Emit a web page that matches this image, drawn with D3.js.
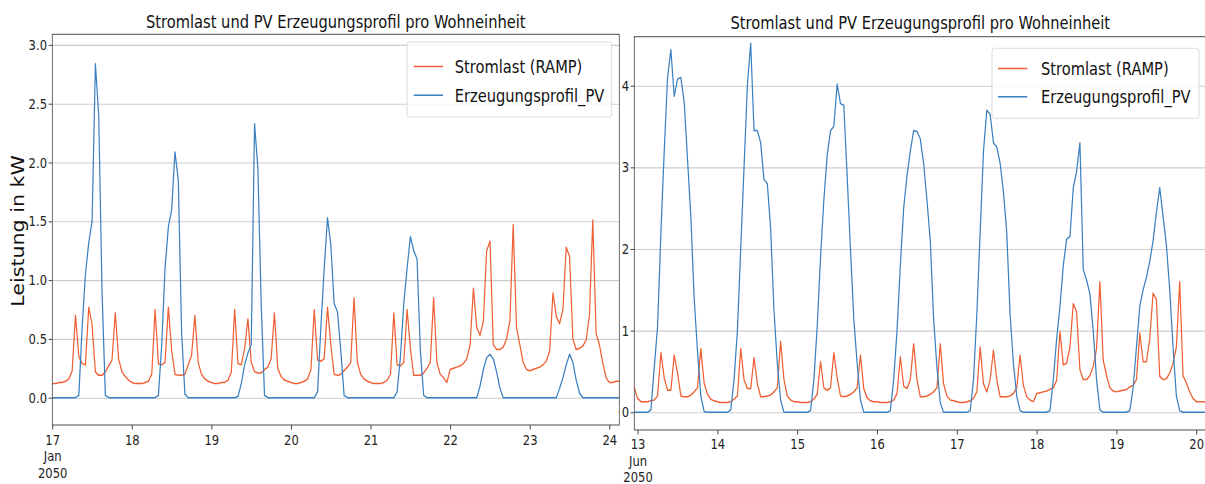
<!DOCTYPE html>
<html>
<head>
<meta charset="utf-8">
<script src="https://cdn.jsdelivr.net/npm/d3@7"></script>
<style>
  body { margin: 0; background: #fff; }
  svg { display: block; }
</style>
</head>
<body>
<div id="chart"></div>
<script>
// hourly values, kW
const loadJan = [
  0.12,0.12,0.13,0.13,0.14,0.16,0.23,0.70,0.35,0.29,0.28,0.77,0.62,0.22,0.19,0.19,0.22,0.27,0.32,0.72,0.33,0.22,0.18,0.15,
  0.13,0.12,0.12,0.12,0.13,0.14,0.20,0.75,0.29,0.28,0.30,0.77,0.40,0.20,0.19,0.19,0.20,0.28,0.36,0.70,0.30,0.20,0.16,0.14,
  0.13,0.12,0.12,0.13,0.13,0.15,0.22,0.75,0.29,0.28,0.42,0.67,0.30,0.22,0.21,0.21,0.24,0.26,0.33,0.72,0.25,0.18,0.15,0.14,
  0.13,0.12,0.12,0.13,0.14,0.16,0.24,0.75,0.32,0.31,0.33,0.77,0.45,0.20,0.19,0.20,0.23,0.26,0.30,0.85,0.30,0.20,0.16,0.14,
  0.13,0.12,0.12,0.12,0.13,0.15,0.20,0.72,0.28,0.27,0.30,0.75,0.42,0.19,0.19,0.19,0.21,0.25,0.30,0.85,0.30,0.20,0.17,0.13,
  0.24,0.25,0.26,0.27,0.29,0.33,0.45,0.93,0.60,0.53,0.65,1.25,1.33,0.45,0.41,0.41,0.43,0.50,0.65,1.47,0.60,0.45,0.30,0.24,
  0.23,0.24,0.25,0.26,0.28,0.31,0.40,0.89,0.69,0.63,0.75,1.28,1.20,0.50,0.41,0.42,0.44,0.49,0.70,1.51,0.55,0.45,0.30,0.17,
  0.13,0.13,0.14,0.14
];
const pvJan = [
  0,0,0,0,0,0,0,0,0.02,0.60,1.05,1.32,1.50,2.84,2.40,0.90,0.02,0,0,0,0,0,0,0,
  0,0,0,0,0,0,0,0,0.02,0.45,1.10,1.45,1.60,2.09,1.85,0.55,0.03,0,0,0,0,0,0,0,
  0,0,0,0,0,0,0,0,0.01,0.12,0.28,0.38,0.45,2.33,1.95,0.80,0.02,0,0,0,0,0,0,0,
  0,0,0,0,0,0,0,0,0.05,0.60,1.10,1.53,1.30,0.80,0.73,0.40,0.02,0,0,0,0,0,0,0,
  0,0,0,0,0,0,0,0,0.05,0.35,0.80,1.10,1.37,1.25,1.18,0.40,0.02,0,0,0,0,0,0,0,
  0,0,0,0,0,0,0,0,0,0.10,0.24,0.34,0.37,0.33,0.22,0.08,0,0,0,0,0,0,0,0,
  0,0,0,0,0,0,0,0,0,0.08,0.17,0.28,0.37,0.30,0.15,0.04,0,0,0,0,0,0,0,0,
  0,0,0,0
];
// June series start one hour earlier (12 Jun 23:00)
const loadJun = [
  0.30,
  0.17,0.13,0.13,0.13,0.14,0.15,0.20,0.73,0.42,0.27,0.27,0.70,0.48,0.20,0.19,0.19,0.21,0.25,0.30,0.78,0.36,0.22,0.16,0.14,
  0.13,0.12,0.12,0.12,0.13,0.16,0.20,0.78,0.40,0.29,0.29,0.67,0.35,0.19,0.19,0.20,0.21,0.25,0.30,0.87,0.40,0.20,0.15,0.13,
  0.13,0.12,0.12,0.12,0.13,0.16,0.22,0.62,0.30,0.27,0.30,0.73,0.42,0.20,0.19,0.20,0.22,0.25,0.30,0.70,0.29,0.18,0.14,0.13,
  0.13,0.12,0.12,0.12,0.13,0.15,0.23,0.68,0.32,0.29,0.40,0.84,0.40,0.19,0.19,0.20,0.22,0.25,0.30,0.84,0.35,0.20,0.15,0.14,
  0.13,0.12,0.12,0.13,0.14,0.17,0.25,0.80,0.35,0.25,0.40,0.76,0.40,0.19,0.19,0.19,0.20,0.23,0.30,0.70,0.33,0.19,0.15,0.13,
  0.23,0.24,0.25,0.26,0.28,0.30,0.39,0.99,0.58,0.60,0.80,1.33,1.23,0.52,0.40,0.40,0.45,0.56,0.78,1.60,0.64,0.45,0.30,0.26,
  0.25,0.26,0.27,0.28,0.31,0.33,0.40,0.97,0.62,0.62,0.90,1.46,1.38,0.44,0.40,0.41,0.48,0.60,0.80,1.60,0.45,0.36,0.25,0.17,
  0.13,0.13,0.13,0.13
];
const pvJun = [
  0,
  0,0,0,0,0.03,0.55,1.05,2.20,3.20,4.10,4.44,3.87,4.08,4.10,3.80,3.10,2.40,1.40,0.75,0.20,0.01,0,0,0,
  0,0,0,0,0.03,0.40,1.00,2.00,3.00,4.00,4.52,3.45,3.45,3.30,2.85,2.80,2.25,1.25,0.60,0.15,0,0,0,0,
  0,0,0,0,0.02,0.40,1.05,1.90,2.60,3.15,3.45,3.50,4.02,3.78,3.76,2.90,2.00,1.15,0.60,0.15,0,0,0,0,
  0,0,0,0,0.02,0.40,1.00,1.80,2.50,2.90,3.20,3.45,3.44,3.35,3.05,2.60,2.10,1.15,0.55,0.12,0,0,0,0,
  0,0,0,0,0.02,0.40,1.20,2.20,3.20,3.70,3.65,3.30,3.25,3.05,2.70,2.20,1.20,0.60,0.20,0.02,0,0,0,0,
  0,0,0,0,0.02,0.40,0.90,1.30,1.80,2.12,2.15,2.75,2.95,3.30,1.75,1.62,1.45,1.00,0.40,0.03,0,0,0,0,
  0,0,0,0,0.02,0.30,0.80,1.30,1.50,1.65,1.85,2.10,2.45,2.75,2.40,2.05,1.50,0.80,0.20,0.02,0,0,0,0,
  0,0,0,0
];

const yTicksJan = [0, 0.5, 1.0, 1.5, 2.0, 2.5, 3.0];
const yTicksJun = [0, 1, 2, 3, 4];
const seriesNames = ["Stromlast (RAMP)", "Erzeugungsprofil_PV"];
const titleText = "Stromlast und PV Erzeugungsprofil pro Wohneinheit";
const yLabelText = "Leistung in kW";

const colors = ["#ef5f33", "#3a80c1"];
const FONT = "DejaVu Sans";
const S = 0.815; // the screenshot is squeezed horizontally

const svg = d3.select("#chart").append("svg")
  .attr("width", 1205)
  .attr("height", 484)
  .style("background", "#fff");

function toSeries(values, start) {
  return values.map((v, i) => ({ t: d3.utcHour.offset(start, i), v: v }));
}

function drawPanel(cfg) {
  const px = X => (X - cfg.L) / S;
  const W = px(cfg.R);
  const g = svg.append("g").attr("transform", `translate(${cfg.L},0) scale(${S},1)`);

  const load = toSeries(cfg.load, cfg.start);
  const pv = toSeries(cfg.pv, cfg.start);

  const x = d3.scaleUtc().domain(d3.extent(load, d => d.t)).range([0, W]);
  const y = d3.scaleLinear().domain(cfg.yDomain).range([cfg.B, cfg.T]);

  /* grid */
  const grid = g.append("g")
    .call(d3.axisLeft(y).tickValues(cfg.yTicks).tickSize(-W).tickFormat(""));
  grid.select(".domain").remove();
  grid.selectAll("line").attr("stroke", "#cdcdcd").attr("stroke-width", 1.1);

  /* lines */
  const line = d3.line().x(d => x(d.t)).y(d => y(d.v));
  [load, pv].forEach((s, i) => {
    g.append("path")
      .attr("d", line(s))
      .attr("fill", "none")
      .attr("stroke", colors[i])
      .attr("stroke-width", 1.5)
      .attr("stroke-linejoin", "round");
  });

  /* axes */
  const yAxis = g.append("g")
    .call(d3.axisLeft(y).tickValues(cfg.yTicks).tickSize(4.5).tickPadding(2).tickFormat(d3.format(cfg.yFormat)));
  yAxis.select(".domain").remove();

  const days = d3.utcDay.range(d3.utcDay.ceil(x.domain()[0]), x.domain()[1]);
  const xAxis = g.append("g")
    .attr("transform", `translate(0,${cfg.B})`)
    .call(d3.axisBottom(x).tickValues(days).tickSize(4.5).tickPadding(cfg.xPad).tickFormat(d3.utcFormat("%-d")));
  xAxis.select(".domain").remove();
  const first = xAxis.select(".tick text");
  first.append("tspan").attr("x", 0).attr("dy", "1.16em").text(cfg.month);
  first.append("tspan").attr("x", 0).attr("dy", "1.16em").text("2050");

  [yAxis, xAxis].forEach(a => {
    a.selectAll("text").attr("font-family", FONT).attr("font-size", 14.2).attr("fill", "#222");
    a.selectAll("line").attr("stroke", "#333");
  });

  /* spines */
  g.append("rect")
    .attr("x", 0).attr("y", cfg.T)
    .attr("width", W).attr("height", cfg.B - cfg.T)
    .attr("fill", "none").attr("stroke", "#4a4a4a").attr("stroke-width", 1);

  /* title */
  g.append("text")
    .attr("x", W / 2).attr("y", cfg.titleY)
    .attr("text-anchor", "middle")
    .attr("font-family", FONT).attr("font-size", 18).attr("fill", "#111")
    .text(titleText);

  if (cfg.yLabel) {
    g.append("text")
      .attr("transform", `translate(${px(24)},231) rotate(-90)`)
      .attr("text-anchor", "middle")
      .attr("font-family", FONT).attr("font-size", 20.6).attr("fill", "#111")
      .text(yLabelText);
  }

  /* legend */
  const lg = cfg.legend;
  g.append("rect")
    .attr("x", px(lg.x0)).attr("y", lg.y0)
    .attr("width", (lg.x1 - lg.x0) / S).attr("height", lg.y1 - lg.y0)
    .attr("rx", 3)
    .attr("fill", "#fff").attr("fill-opacity", 0.8)
    .attr("stroke", "#d6d6d6");
  seriesNames.forEach((name, i) => {
    const base = lg.rows[i];
    g.append("line")
      .attr("x1", px(lg.lineX)).attr("x2", px(lg.lineX) + 36)
      .attr("y1", base - 6.5).attr("y2", base - 6.5)
      .attr("stroke", colors[i]).attr("stroke-width", 1.5);
    g.append("text")
      .attr("x", px(lg.textX)).attr("y", base)
      .attr("font-family", FONT).attr("font-size", 18).attr("fill", "#111")
      .text(name);
  });
}

drawPanel({
  load: loadJan, pv: pvJan, start: new Date(Date.UTC(2050, 0, 17, 0)),
  L: 52.3, R: 619.3, T: 34.3, B: 425,
  yDomain: [-0.232, 3.09], yTicks: yTicksJan, yFormat: ".1f",
  month: "Jan", xPad: 5, titleY: 28, yLabel: true,
  legend: { x0: 407, x1: 611.7, y0: 42, y1: 117, lineX: 413.7, textX: 454.7, rows: [73, 101.7] }
});

drawPanel({
  load: loadJun, pv: pvJun, start: new Date(Date.UTC(2050, 5, 12, 23)),
  L: 634.3, R: 1206.3, T: 36.7, B: 430,
  yDomain: [-0.217, 4.6], yTicks: yTicksJun, yFormat: "d",
  month: "Jun", xPad: 4.5, titleY: 29.5, yLabel: false,
  legend: { x0: 992, x1: 1199, y0: 48.3, y1: 118.3, lineX: 998, textX: 1041, rows: [75, 103.3] }
});
</script>
</body>
</html>
